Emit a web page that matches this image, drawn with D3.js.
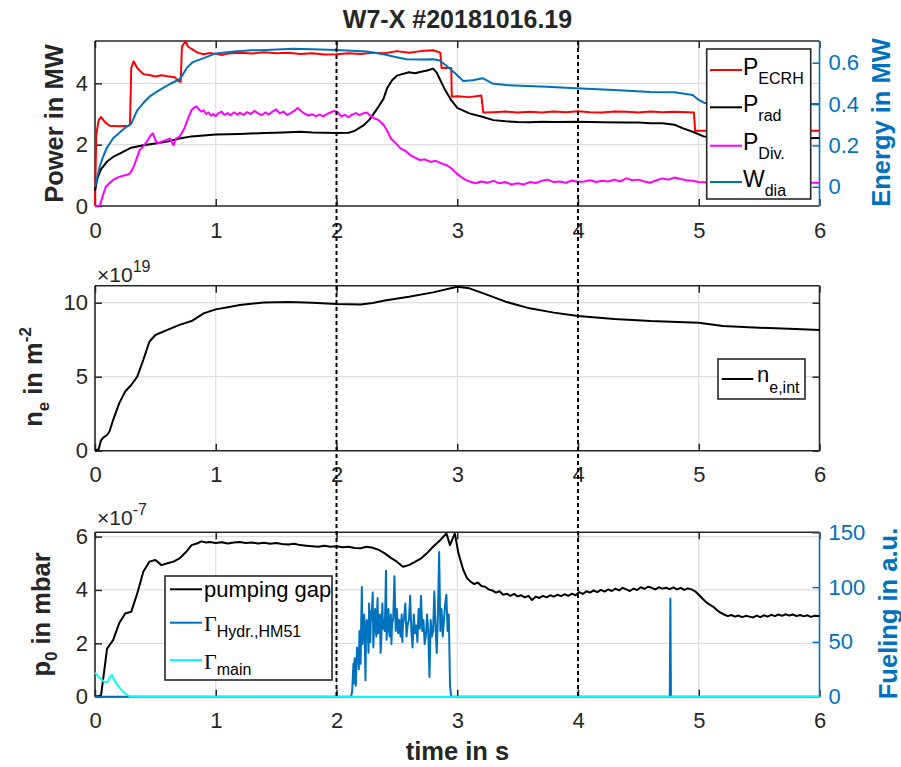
<!DOCTYPE html>
<html><head><meta charset="utf-8">
<script src="https://cdn.jsdelivr.net/npm/d3@7"></script>
<style>body{margin:0;background:#fff}svg{display:block}text{font-family:"Liberation Sans",Arial,sans-serif}</style>
</head><body><svg id="c" width="901" height="767"></svg>
<script>
// ---------------- data ----------------
const xTicks = [0,1,2,3,4,5,6];
const topLeftTicks = [0,2,4];
const topRightTicks = [0,0.2,0.4,0.6];
const midTicks = [0,5,10];
const botLeftTicks = [0,2,4,6];
const botRightTicks = [0,50,100,150];
const markTimes = [2,4];

const P_ECRH = [[0,0],[0.01,2.3],[0.03,2.8],[0.05,2.9],[0.08,2.75],[0.12,2.62],[0.2,2.6],[0.28,2.62],[0.29,2.65],[0.30,4.5],[0.32,4.72],[0.35,4.5],[0.4,4.3],[0.45,4.27],[0.5,4.22],[0.55,4.26],[0.6,4.23],[0.66,4.2],[0.7,4.05],[0.71,4.05],[0.72,5.2],[0.75,5.38],[0.77,5.2],[0.8,5.12],[0.85,5.0],[0.9,4.95],[0.95,4.99],[1.0,4.96],[1.05,4.92],[1.1,4.97],[1.2,5.0],[1.3,4.97],[1.4,5.01],[1.5,4.98],[1.6,5.0],[1.7,4.96],[1.8,4.98],[1.9,4.94],[2.0,4.95],[2.1,4.98],[2.2,4.96],[2.3,5.0],[2.4,4.98],[2.5,5.05],[2.6,5.0],[2.7,5.05],[2.8,5.08],[2.86,5.0],[2.87,4.5],[2.95,4.5],[2.955,3.56],[3.0,3.58],[3.1,3.55],[3.2,3.6],[3.215,3.05],[3.3,3.06],[3.4,3.08],[3.5,3.05],[3.6,3.07],[3.7,3.05],[3.8,3.08],[3.9,3.06],[4.0,3.09],[4.1,3.06],[4.2,3.05],[4.3,3.08],[4.4,3.07],[4.5,3.05],[4.6,3.08],[4.7,3.06],[4.8,3.07],[4.96,3.05],[4.97,2.45],[5.2,2.45],[5.5,2.45],[5.8,2.45],[6,2.45]];
const P_rad = [[0,0.5],[0.02,0.9],[0.05,1.2],[0.1,1.45],[0.15,1.6],[0.2,1.7],[0.3,1.9],[0.4,1.98],[0.5,2.04],[0.6,2.1],[0.7,2.2],[0.8,2.27],[0.9,2.3],[1.0,2.33],[1.2,2.35],[1.4,2.38],[1.5,2.39],[1.7,2.42],[1.8,2.4],[2.0,2.38],[2.1,2.39],[2.15,2.45],[2.22,2.62],[2.27,2.8],[2.31,3.02],[2.35,3.25],[2.39,3.5],[2.42,3.85],[2.46,4.1],[2.5,4.25],[2.6,4.36],[2.65,4.33],[2.7,4.38],[2.75,4.42],[2.8,4.48],[2.83,4.35],[2.86,4.1],[2.9,3.78],[2.95,3.45],[3.0,3.2],[3.1,3.02],[3.2,2.92],[3.3,2.8],[3.4,2.76],[3.5,2.74],[3.6,2.73],[3.7,2.75],[3.8,2.74],[4.0,2.75],[4.2,2.73],[4.4,2.72],[4.5,2.72],[4.6,2.7],[4.7,2.7],[4.8,2.65],[4.87,2.53],[4.95,2.42],[5.04,2.27],[5.2,2.2],[5.5,2.2],[5.8,2.2],[6,2.22]];
const P_Div = [[0,0],[0.04,0.02],[0.07,0.4],[0.09,0.63],[0.12,0.75],[0.15,0.85],[0.2,0.95],[0.25,1.0],[0.29,1.06],[0.32,1.28],[0.35,1.6],[0.37,1.82],[0.4,1.95],[0.43,2.1],[0.46,2.3],[0.48,2.37],[0.5,2.15],[0.52,2.04],[0.55,2.1],[0.59,2.15],[0.62,2.2],[0.65,1.98],[0.67,2.2],[0.7,2.26],[0.74,2.53],[0.77,2.85],[0.8,3.13],[0.82,3.2],[0.84,3.25],[0.86,3.15],[0.88,3.08],[0.9,3.12],[0.92,3.0],[0.94,3.05],[0.96,2.95],[0.98,3.0],[1.0,2.93],[1.02,3.02],[1.05,3.08],[1.07,2.97],[1.1,3.03],[1.12,2.96],[1.15,3.05],[1.18,2.98],[1.2,3.04],[1.23,2.97],[1.26,3.06],[1.29,3.0],[1.32,3.1],[1.35,3.02],[1.38,2.96],[1.41,3.05],[1.44,2.98],[1.47,3.08],[1.5,3.15],[1.53,3.02],[1.56,3.08],[1.59,2.97],[1.62,3.03],[1.65,3.1],[1.68,3.2],[1.71,3.08],[1.74,3.0],[1.77,2.95],[1.8,2.99],[1.83,2.93],[1.86,2.98],[1.89,2.92],[1.92,3.0],[1.95,3.05],[1.98,3.1],[2.01,3.05],[2.04,2.92],[2.07,2.97],[2.1,2.9],[2.13,2.98],[2.16,3.03],[2.19,2.96],[2.22,3.02],[2.25,3.05],[2.28,2.95],[2.31,2.86],[2.35,2.8],[2.39,2.64],[2.42,2.45],[2.45,2.2],[2.49,2.05],[2.53,1.88],[2.57,1.8],[2.61,1.66],[2.65,1.58],[2.69,1.5],[2.73,1.52],[2.78,1.44],[2.82,1.47],[2.87,1.39],[2.91,1.33],[2.95,1.23],[2.99,1.08],[3.03,0.95],[3.07,0.85],[3.11,0.79],[3.15,0.74],[3.2,0.8],[3.25,0.76],[3.3,0.82],[3.35,0.74],[3.4,0.78],[3.45,0.7],[3.5,0.74],[3.55,0.7],[3.6,0.78],[3.65,0.75],[3.7,0.82],[3.75,0.86],[3.8,0.78],[3.85,0.8],[3.9,0.76],[3.95,0.83],[4.0,0.78],[4.05,0.8],[4.1,0.84],[4.15,0.78],[4.2,0.82],[4.25,0.8],[4.3,0.86],[4.35,0.8],[4.4,0.9],[4.45,0.84],[4.5,0.86],[4.55,0.8],[4.6,0.76],[4.65,0.84],[4.7,0.9],[4.75,0.86],[4.8,0.93],[4.85,0.88],[4.9,0.84],[4.95,0.82],[5.0,0.78],[5.2,0.75],[5.5,0.76],[5.8,0.76],[6,0.76]];
const W_dia = [[0,0],[0.02,0.05],[0.04,0.1],[0.07,0.15],[0.1,0.19],[0.15,0.235],[0.2,0.26],[0.25,0.285],[0.3,0.305],[0.35,0.37],[0.4,0.405],[0.46,0.44],[0.54,0.47],[0.62,0.497],[0.7,0.52],[0.73,0.545],[0.76,0.575],[0.81,0.603],[0.9,0.622],[1.0,0.645],[1.15,0.654],[1.3,0.66],[1.42,0.662],[1.64,0.667],[1.8,0.665],[2.0,0.662],[2.25,0.654],[2.4,0.64],[2.47,0.63],[2.58,0.617],[2.7,0.615],[2.8,0.617],[2.85,0.612],[2.9,0.59],[2.98,0.55],[3.05,0.512],[3.13,0.515],[3.21,0.525],[3.29,0.5],[3.4,0.492],[3.74,0.484],[3.98,0.476],[4.3,0.468],[4.6,0.458],[4.8,0.457],[4.88,0.45],[4.95,0.444],[5.0,0.42],[5.05,0.405],[5.2,0.4],[5.6,0.4],[6,0.4]];
const n_e = [[0,0],[0.03,0.1],[0.05,0.7],[0.07,0.9],[0.1,1.06],[0.12,1.3],[0.15,2.07],[0.2,3.2],[0.25,4.0],[0.3,4.44],[0.35,5.0],[0.4,6.13],[0.45,7.36],[0.5,7.82],[0.6,8.16],[0.7,8.5],[0.8,8.76],[0.9,9.28],[1.0,9.55],[1.1,9.7],[1.2,9.84],[1.4,10.02],[1.6,10.05],[1.8,10.0],[2.0,9.91],[2.2,9.88],[2.3,9.98],[2.4,10.15],[2.6,10.4],[2.8,10.7],[3.0,11.08],[3.1,10.97],[3.2,10.68],[3.4,10.07],[3.6,9.62],[3.8,9.33],[4.0,9.1],[4.3,8.9],[4.6,8.76],[5.0,8.65],[5.2,8.43],[5.5,8.31],[5.8,8.22],[6,8.16]];
const p0_gap = [[0,0],[0.05,0.05],[0.08,1.1],[0.1,1.8],[0.15,2.12],[0.2,2.75],[0.25,3.12],[0.3,3.18],[0.35,3.87],[0.4,4.68],[0.45,5.06],[0.5,5.12],[0.55,4.93],[0.6,5.0],[0.65,5.06],[0.7,5.18],[0.75,5.4],[0.8,5.68],[0.85,5.75],[0.88,5.82],[0.92,5.78],[0.95,5.8],[1.0,5.76],[1.05,5.79],[1.1,5.74],[1.15,5.78],[1.2,5.8],[1.25,5.76],[1.3,5.78],[1.35,5.74],[1.4,5.77],[1.45,5.73],[1.5,5.76],[1.55,5.72],[1.6,5.7],[1.65,5.73],[1.7,5.68],[1.75,5.66],[1.8,5.64],[1.85,5.62],[1.9,5.66],[1.95,5.62],[2.0,5.64],[2.05,5.6],[2.1,5.62],[2.15,5.57],[2.2,5.56],[2.25,5.62],[2.3,5.58],[2.35,5.5],[2.4,5.37],[2.45,5.2],[2.5,5.06],[2.55,4.87],[2.6,4.93],[2.65,5.05],[2.7,5.18],[2.75,5.38],[2.8,5.62],[2.86,5.87],[2.91,6.12],[2.94,5.68],[2.98,6.12],[3.01,5.37],[3.05,4.75],[3.08,4.45],[3.11,4.31],[3.14,4.22],[3.17,4.28],[3.2,4.15],[3.23,4.12],[3.26,4.02],[3.29,3.98],[3.32,3.9],[3.35,3.95],[3.38,3.82],[3.41,3.86],[3.44,3.78],[3.47,3.85],[3.5,3.76],[3.53,3.8],[3.56,3.72],[3.59,3.78],[3.62,3.62],[3.65,3.75],[3.68,3.7],[3.71,3.78],[3.74,3.72],[3.77,3.8],[3.8,3.75],[3.83,3.82],[3.86,3.77],[3.89,3.84],[3.92,3.78],[3.95,3.86],[3.98,3.8],[4.01,3.92],[4.04,3.85],[4.07,3.95],[4.1,3.9],[4.13,3.98],[4.16,3.92],[4.19,4.0],[4.22,3.94],[4.25,4.02],[4.28,3.96],[4.31,4.05],[4.34,3.98],[4.37,4.08],[4.4,4.02],[4.43,3.96],[4.46,4.05],[4.49,4.0],[4.52,4.1],[4.55,4.04],[4.58,4.12],[4.61,4.08],[4.64,4.02],[4.67,4.1],[4.7,4.05],[4.73,4.08],[4.76,4.03],[4.79,4.1],[4.82,4.02],[4.85,4.08],[4.88,4.0],[4.91,4.06],[4.94,4.02],[4.97,3.95],[5.0,3.82],[5.03,3.68],[5.06,3.55],[5.09,3.45],[5.12,3.37],[5.15,3.25],[5.18,3.15],[5.21,3.08],[5.24,3.02],[5.27,3.06],[5.3,3.0],[5.33,3.04],[5.36,2.98],[5.39,3.03],[5.42,3.0],[5.45,2.97],[5.48,3.04],[5.51,2.98],[5.54,3.05],[5.57,3.0],[5.6,3.07],[5.63,3.02],[5.66,3.08],[5.69,3.03],[5.72,3.09],[5.75,3.04],[5.78,3.08],[5.81,3.02],[5.84,3.06],[5.87,3.01],[5.9,3.05],[5.93,2.99],[5.96,3.03],[6,3.02]];
const G_hydr = [[0,0],[2.12,0],[2.13,5],[2.14,30],[2.145,12],[2.15,35],[2.16,10],[2.17,45],[2.18,42],[2.185,25],[2.19,60],[2.2,30],[2.205,70],[2.21,100],[2.215,48],[2.22,55],[2.23,75],[2.24,15],[2.245,60],[2.25,70],[2.26,60],[2.265,40],[2.27,85],[2.28,50],[2.285,78],[2.29,70],[2.3,95],[2.305,45],[2.31,60],[2.32,80],[2.325,62],[2.33,55],[2.34,90],[2.345,58],[2.35,65],[2.36,75],[2.365,40],[2.37,50],[2.38,85],[2.385,62],[2.39,70],[2.4,60],[2.41,115],[2.415,52],[2.42,65],[2.43,80],[2.435,60],[2.44,55],[2.45,75],[2.455,48],[2.46,65],[2.47,72],[2.48,110],[2.49,60],[2.495,75],[2.5,80],[2.51,58],[2.52,70],[2.53,55],[2.54,75],[2.545,50],[2.55,65],[2.56,72],[2.57,85],[2.58,55],[2.59,66],[2.6,70],[2.61,92],[2.62,60],[2.63,45],[2.64,75],[2.65,58],[2.66,65],[2.67,50],[2.68,80],[2.69,62],[2.7,92],[2.71,60],[2.72,70],[2.73,48],[2.74,55],[2.75,75],[2.76,60],[2.77,18],[2.78,70],[2.79,55],[2.8,60],[2.81,96],[2.82,65],[2.83,40],[2.84,75],[2.85,132],[2.86,60],[2.87,80],[2.88,55],[2.89,70],[2.9,85],[2.91,93],[2.92,60],[2.93,75],[2.94,10],[2.95,0],[4.76,0],[4.765,89.5],[4.77,0],[6,0]];
const G_main = [[0,22],[0.03,18],[0.07,14],[0.1,13],[0.12,17],[0.14,20],[0.16,15],[0.19,10],[0.22,6],[0.26,2],[0.29,0],[6,0]];

const topLegend = [{main:"P",sub:"ECRH",color:"#FF0000"},{main:"P",sub:"rad",color:"#000000"},{main:"P",sub:"Div.",color:"#FF00FF"},{main:"W",sub:"dia",color:"#0072BD"}];
const botLegend = [{main:"pumping gap",sub:"",color:"#000000",serif:false},{main:"Γ",sub:"Hydr.,HM51",color:"#0072BD",serif:true},{main:"Γ",sub:"main",color:"#00FFFF",serif:true}];

// ---------------- layout ----------------
const INK = "#262626", BLUE = "#0072BD", GRID = "#dedede";
const X0 = 95, X1 = 819.5;
const PT = {y0:41, y1:206}, PM = {y0:285.7, y1:450.7}, PB = {y0:532.3, y1:696.7};
const svg = d3.select("#c");
const x = d3.scaleLinear().domain([0,6]).range([X0,X1]);
const yT = d3.scaleLinear().domain([0,5.38]).range([PT.y1,PT.y0]);
const yTR = d3.scaleLinear().domain([-0.093,0.705]).range([PT.y1,PT.y0]);
const yM = d3.scaleLinear().domain([0,11.15]).range([PM.y1,PM.y0]);
const yB = d3.scaleLinear().domain([0,6.16]).range([PB.y1,PB.y0]);
const yBR = d3.scaleLinear().domain([0,150]).range([PB.y1,PB.y0]);

function grid(p, ys, yTicks){
  const g = svg.append("g");
  g.selectAll("line.v").data(xTicks.slice(1,-1)).join("line").attr("x1",d=>x(d)).attr("x2",d=>x(d)).attr("y1",p.y0).attr("y2",p.y1).attr("stroke",GRID).attr("stroke-width",1.2);
  g.selectAll("line.h").data(yTicks.filter(d=>ys(d)>p.y0+1 && ys(d)<p.y1-1)).join("line").attr("x1",X0).attr("x2",X1).attr("y1",d=>ys(d)).attr("y2",d=>ys(d)).attr("stroke",GRID).attr("stroke-width",1.2);
}
let clipN = 0;
function clip(p){
  const id = "cl"+(clipN++);
  svg.append("clipPath").attr("id",id).append("rect").attr("x",X0-1.5).attr("y",p.y0-1.5).attr("width",X1-X0+3).attr("height",p.y1-p.y0+3);
  return "url(#"+id+")";
}
function line(data, ys, color, cp, w){
  svg.append("path").datum(data).attr("clip-path",cp).attr("fill","none").attr("stroke",color).attr("stroke-width",w||2).attr("stroke-linejoin","round")
    .attr("d", d3.line().x(d=>x(d[0])).y(d=>ys(d[1])));
}
function styleAxis(g, color, size){
  g.select(".domain").remove();
  g.selectAll(".tick line").attr("stroke",color).attr("stroke-width",1.5);
  g.selectAll(".tick text").attr("fill",color).attr("font-size",size||22).attr("font-family","Liberation Sans, Arial, sans-serif");
}
function axes(p, ys, yTicks, rs, rTicks){
  const gb = svg.append("g").attr("transform",`translate(0,${p.y1})`).call(d3.axisBottom(x).tickValues(xTicks).tickSize(-7).tickPadding(16).tickFormat(d=>d));
  styleAxis(gb, INK);
  const gt = svg.append("g").attr("transform",`translate(0,${p.y0})`).call(d3.axisTop(x).tickValues(xTicks).tickSize(-7).tickFormat(""));
  styleAxis(gt, INK);
  const gl = svg.append("g").attr("transform",`translate(${X0},0)`).call(d3.axisLeft(ys).tickValues(yTicks).tickSize(-7).tickPadding(7).tickFormat(d=>String(d)));
  styleAxis(gl, INK);
  const rc = rs ? BLUE : INK;
  const gr = svg.append("g").attr("transform",`translate(${X1},0)`)
    .call(d3.axisRight(rs||ys).tickValues(rs?rTicks:yTicks).tickSize(-7).tickPadding(9).tickFormat(d=> rs? String(d) : ""));
  styleAxis(gr, rc);
  const f = svg.append("g").attr("stroke-width",1.6).attr("fill","none");
  f.append("line").attr("x1",X0).attr("x2",X1).attr("y1",p.y1).attr("y2",p.y1).attr("stroke",INK);
  f.append("line").attr("x1",X0).attr("x2",X1).attr("y1",p.y0).attr("y2",p.y0).attr("stroke",INK);
  f.append("line").attr("x1",X0).attr("x2",X0).attr("y1",p.y0).attr("y2",p.y1).attr("stroke",INK);
  f.append("line").attr("x1",X1).attr("x2",X1).attr("y1",p.y0).attr("y2",p.y1).attr("stroke",rc);
}

// grids
grid(PT, yT, topLeftTicks);
grid(PM, yM, midTicks);
grid(PB, yB, botLeftTicks);

// frames under the data so low traces stay visible on the axis
axes(PT, yT, topLeftTicks, yTR, topRightTicks);
axes(PM, yM, midTicks, null, null);
axes(PB, yB, botLeftTicks, yBR, botRightTicks);

// data
const cT = clip(PT), cM = clip(PM), cB = clip(PB);
line(P_ECRH, yT, "#FF0000", cT);
line(P_rad, yT, "#000000", cT);
line(P_Div, yT, "#FF00FF", cT);
line(W_dia, yTR, BLUE, cT);
line(n_e, yM, "#000000", cM);
line(p0_gap, yB, "#000000", cB);
line(G_hydr, yBR, BLUE, cB);
line(G_main, yBR, "#00FFFF", cB);

// dashed markers
svg.selectAll("line.mark").data(markTimes).join("line").attr("x1",d=>x(d)).attr("x2",d=>x(d)).attr("y1",PT.y0).attr("y2",PB.y1)
  .attr("stroke","#000").attr("stroke-width",2).attr("stroke-dasharray","4,3");

// title and labels
svg.append("text").attr("x",457.5).attr("y",28.3).attr("text-anchor","middle").attr("font-size",25).attr("font-weight","bold").attr("fill",INK).text("W7-X #20181016.19");
svg.append("text").attr("x",457.5).attr("y",760).attr("text-anchor","middle").attr("font-size",25.5).attr("font-weight","bold").attr("fill",INK).text("time in s");

function rlabel(xp, yc, color){
  return svg.append("text").attr("transform",`translate(${xp},${yc}) rotate(-90)`).attr("text-anchor","middle").attr("font-size",25.5).attr("font-weight","bold").attr("fill",color);
}
rlabel(63.3, 123.5, INK).text("Power in MW");
{
  const t = rlabel(41.5, 377, INK);
  t.append("tspan").text("n");
  t.append("tspan").attr("font-size",17).attr("dy",7).text("e");
  t.append("tspan").attr("dy",-7).text(" in m");
  t.append("tspan").attr("font-size",17).attr("dy",-11).text("-2");
}
{
  const t = rlabel(50, 614.5, INK);
  t.append("tspan").text("p");
  t.append("tspan").attr("font-size",17).attr("dy",7).text("0");
  t.append("tspan").attr("dy",-7).text(" in mbar");
}
rlabel(889.5, 122.5, BLUE).text("Energy in MW");
rlabel(896.5, 613.5, BLUE).text("Fueling in a.u.");

// exponent labels
function expo(yb, e){
  const t = svg.append("text").attr("x",97).attr("y",yb).attr("font-size",21).attr("fill",INK);
  t.append("tspan").text("×10");
  t.append("tspan").attr("font-size",16).attr("dy",-10).text(e);
}
expo(282, "19");
expo(525, "-7");

// legends
function box(x0,y0,x1,y1){
  svg.append("rect").attr("x",x0).attr("y",y0).attr("width",x1-x0).attr("height",y1-y0).attr("fill","#fff").attr("stroke",INK).attr("stroke-width",1.6);
}
box(706.7,49,810.7,199);
const topRows = [70,107.3,145.7,182];
topLegend.forEach((d,i)=>{
  const yy = topRows[i];
  svg.append("line").attr("x1",710).attr("x2",742).attr("y1",yy).attr("y2",yy).attr("stroke",d.color).attr("stroke-width",2);
  const t = svg.append("text").attr("x",743).attr("y",yy+4.5).attr("font-size",23).attr("fill","#000");
  t.append("tspan").text(d.main);
  t.append("tspan").attr("font-size",16).attr("dy",9).text(d.sub);
});

box(718,359,805,399);
svg.append("line").attr("x1",721.7).attr("x2",753.3).attr("y1",379).attr("y2",379).attr("stroke","#000").attr("stroke-width",2);
{
  const t = svg.append("text").attr("x",757).attr("y",382.3).attr("font-size",22).attr("fill","#000");
  t.append("tspan").text("n");
  t.append("tspan").attr("font-size",16).attr("dy",11).text("e,int");
}

box(165,576,332,680);
const botRows = [589.3,622.7,660];
botLegend.forEach((d,i)=>{
  const yy = botRows[i];
  svg.append("line").attr("x1",170).attr("x2",202).attr("y1",yy).attr("y2",yy).attr("stroke",d.color).attr("stroke-width",2);
  const t = svg.append("text").attr("x",204).attr("y",yy+ (d.serif?8.5:8)).attr("font-size",22).attr("fill","#000");
  const m = t.append("tspan").text(d.main);
  if (d.serif) m.attr("font-family","Liberation Serif, Times New Roman, serif");
  if (d.sub) t.append("tspan").attr("font-size",16).attr("dy",6).text(d.sub);
});
</script></body></html>
